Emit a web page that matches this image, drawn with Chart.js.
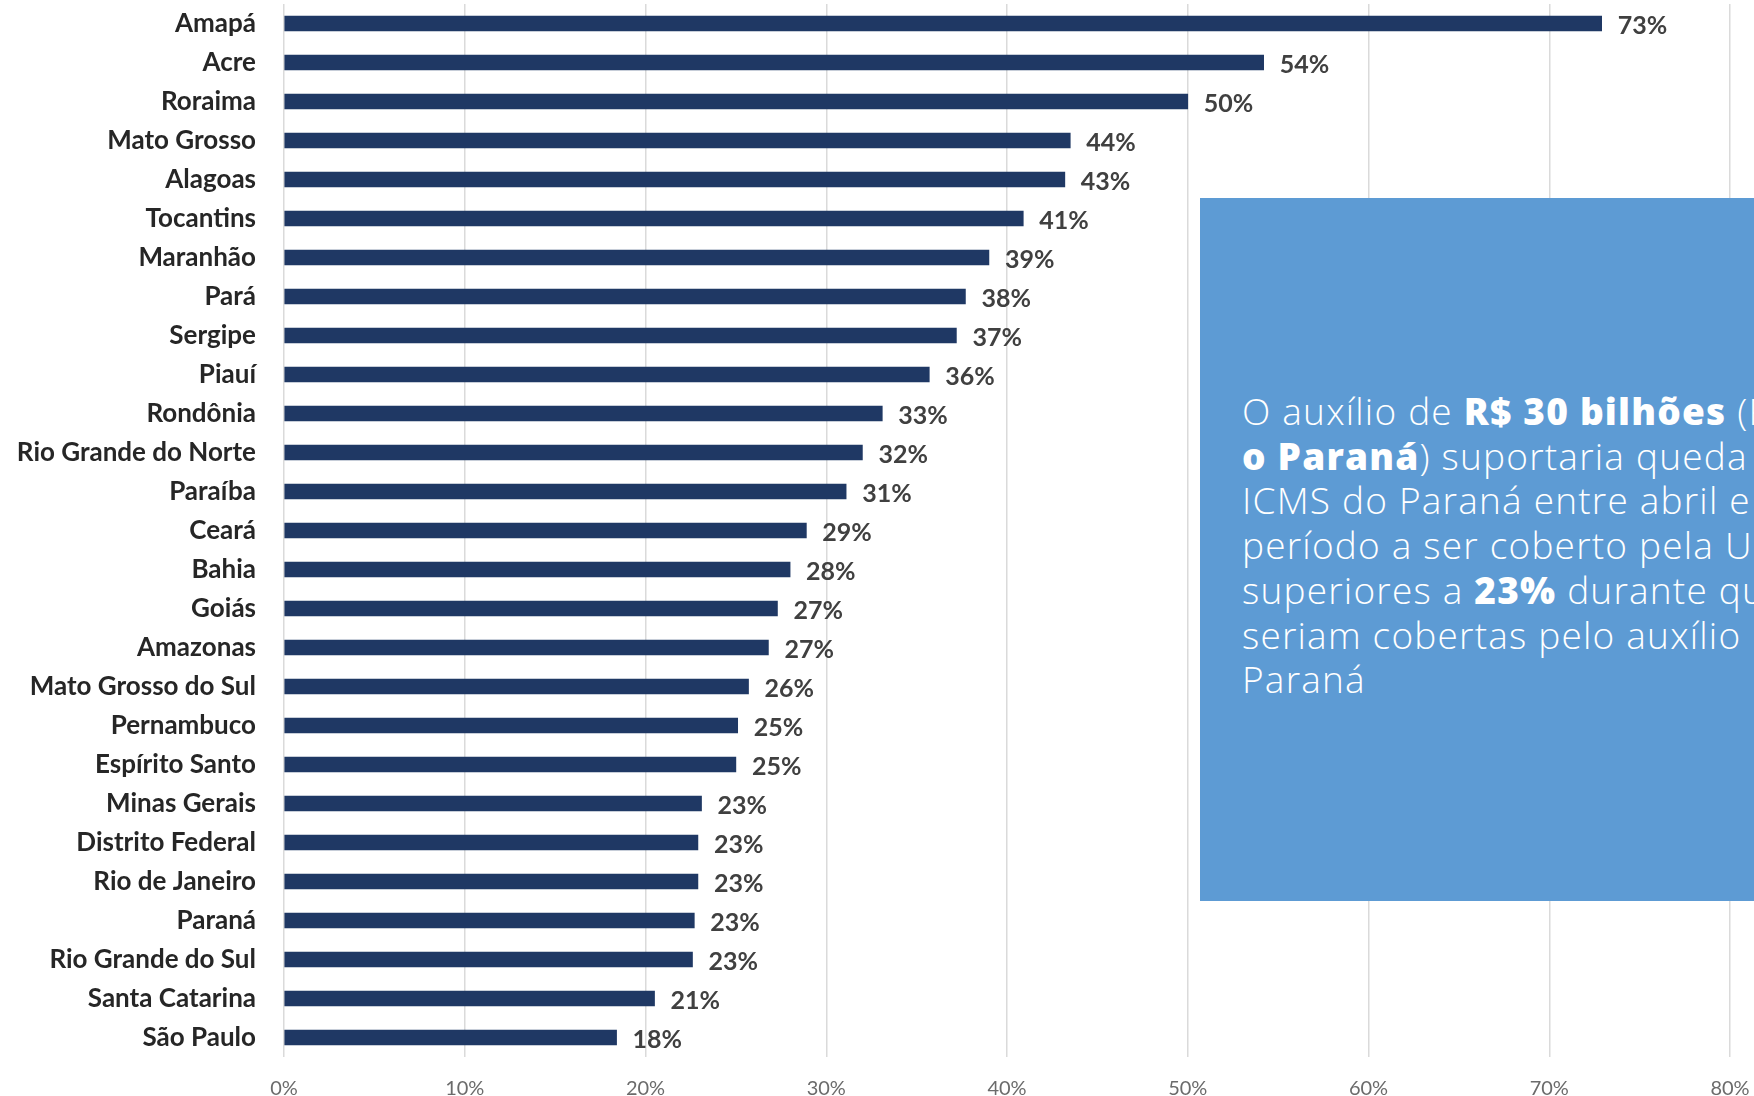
<!DOCTYPE html>
<html lang="pt-BR">
<head>
<meta charset="utf-8">
<title>ICMS por estado</title>
<script src="https://cdn.jsdelivr.net/npm/chart.js@4.4.1/dist/chart.umd.min.js"></script>
<style>
    html, body { margin: 0; padding: 0; background: #fff; }
    #wrap { position: relative; width: 1754px; height: 1096px; overflow: hidden; }
    #note {
        position: absolute; left: 1200px; top: 198px; width: 554px; height: 703px;
        background: #5d9bd4; overflow: hidden; color: #fff;
        font-family: 'Open Sans', 'Lato', sans-serif; font-weight: 300; font-size: 37px;
        letter-spacing: 1.2px; line-height: 44.7px; white-space: nowrap;
        box-sizing: border-box; padding: 191px 0 0 42px;
    }
    #note b { font-weight: 800; }
</style>
</head>
<body>
<div id="wrap">
    <canvas id="chart"></canvas>
    <div id="note">
        <div>O auxílio de <b>R$ 30 bilhões</b> (R$ 1,4 bilhão para</div>
        <div><b>o Paraná</b>) suportaria queda de</div>
        <div>ICMS do Paraná entre abril e</div>
        <div>período a ser coberto pela União</div>
        <div>superiores a <b>23%</b> durante que</div>
        <div>seriam cobertas pelo auxílio</div>
        <div>Paraná</div>
    </div>
</div>
<script>
const states = ['Amapá', 'Acre', 'Roraima', 'Mato Grosso', 'Alagoas', 'Tocantins', 'Maranhão', 'Pará',
    'Sergipe', 'Piauí', 'Rondônia', 'Rio Grande do Norte', 'Paraíba', 'Ceará', 'Bahia', 'Goiás',
    'Amazonas', 'Mato Grosso do Sul', 'Pernambuco', 'Espírito Santo', 'Minas Gerais', 'Distrito Federal',
    'Rio de Janeiro', 'Paraná', 'Rio Grande do Sul', 'Santa Catarina', 'São Paulo'];
const drops = [72.9, 54.2, 50.0, 43.5, 43.2, 40.9, 39.0, 37.7, 37.2, 35.7, 33.1, 32.0, 31.1, 28.9,
    28.0, 27.3, 26.8, 25.7, 25.1, 25.0, 23.1, 22.9, 22.9, 22.7, 22.6, 20.5, 18.4];
const xTicks = [0, 10, 20, 30, 40, 50, 60, 70, 80];

const font = "Lato, 'Open Sans', sans-serif";

// rótulos de valor ao fim de cada barra
const valueLabels = {
    id: 'valueLabels',
    afterDatasetsDraw(chart) {
        const { ctx } = chart;
        const meta = chart.getDatasetMeta(0);
        ctx.save();
        ctx.font = `bold 25px ${font}`;
        ctx.fillStyle = '#404040';
        ctx.textAlign = 'left';
        ctx.textBaseline = 'middle';
        meta.data.forEach((bar, i) => {
            ctx.fillText(Math.round(drops[i]) + '%', bar.x + 16, bar.y + 2);
        });
        ctx.restore();
    }
};

new Chart(document.getElementById('chart'), {
    type: 'bar',
    data: {
        labels: states,
        datasets: [{ data: drops, backgroundColor: '#1f3864', barThickness: 15 }]
    },
    options: {
        indexAxis: 'y',
        responsive: true,
        maintainAspectRatio: false,
        animation: false,
        layout: { padding: { top: 4, right: 24, left: 0, bottom: 0 } },
        plugins: { legend: { display: false }, tooltip: { enabled: false } },
        scales: {
            x: {
                min: 0, max: 80,
                afterBuildTicks: s => { s.ticks = xTicks.map(v => ({ value: v })); },
                afterFit: s => { s.height = 39; s.paddingLeft = 0; s.paddingRight = 0; },
                grid: { color: '#dadada', lineWidth: 1.5, drawTicks: false },
                border: { display: false },
                ticks: { callback: v => v + '%', padding: 20, color: '#6b6b6b', font: { family: font, size: 20 } }
            },
            y: {
                afterFit: s => { s.width = 284; s.paddingTop = 0; s.paddingBottom = 0; },
                grid: { display: false, drawTicks: false },
                border: { display: false },
                ticks: { padding: 28, color: '#262626', font: { family: font, size: 26, weight: 'bold' } }
            }
        }
    },
    plugins: [valueLabels]
});
</script>
</body>
</html>
